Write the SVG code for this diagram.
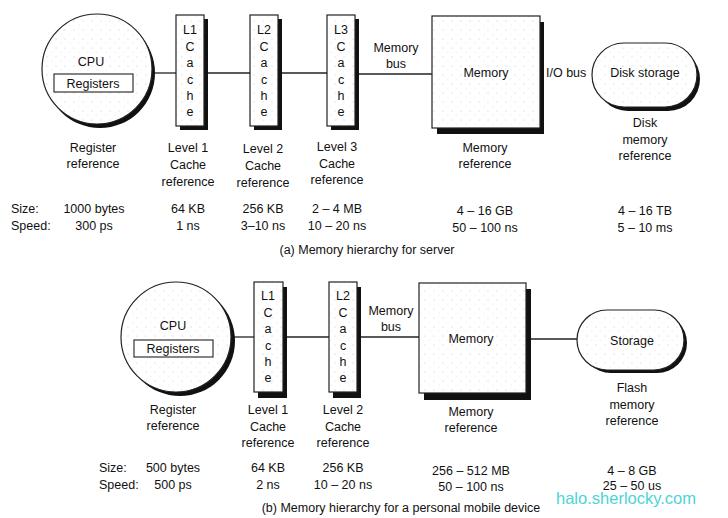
<svg xmlns="http://www.w3.org/2000/svg" width="728" height="518" viewBox="0 0 728 518">
<style>
text{font-family:"Liberation Sans",Arial,sans-serif;font-size:12.5px;fill:#111;text-anchor:middle}
.l{text-anchor:start}
.sh{fill:#111}
.box{fill:url(#dots);stroke:#222;stroke-width:1.2}
.wire{stroke:#222;stroke-width:1.3;fill:none}
.wm{fill:#4dd4d4;font-size:16.5px;text-anchor:start}
</style>
<defs>
<pattern id="dots" width="9" height="9" patternUnits="userSpaceOnUse">
<rect width="9" height="9" fill="#fff"/>
<circle cx="2" cy="3" r="0.5" fill="#bbb"/>
<circle cx="7" cy="7" r="0.4" fill="#ccc"/>
</pattern>
</defs>
<rect width="728" height="518" fill="#fff"/>

<g id="connectors">
<line class="wire" x1="152" y1="73" x2="176" y2="73"/>
<line class="wire" x1="208" y1="73" x2="250" y2="73"/>
<line class="wire" x1="282" y1="73" x2="327" y2="73"/>
<line class="wire" x1="359" y1="74" x2="432" y2="74"/>
<line class="wire" x1="232" y1="337" x2="254" y2="337"/>
<line class="wire" x1="287" y1="337" x2="329" y2="337"/>
<line class="wire" x1="361" y1="337" x2="419" y2="337"/>
<line class="wire" x1="531" y1="339" x2="577" y2="339"/>
</g>

<!-- Top: server -->
<g id="cpu-a">
<circle class="sh" cx="100" cy="73" r="55"/>
<circle class="box" cx="97" cy="69" r="55"/>
<text x="91" y="66">CPU</text>
<rect x="54" y="74" width="79" height="18" fill="#fff" stroke="#222" stroke-width="1.1"/>
<text x="93" y="87.5">Registers</text>
</g>
<g id="l1-a">
<rect class="sh" x="180" y="19" width="28" height="111"/>
<rect class="box" x="176" y="15" width="28" height="111"/>
<text x="190" y="34">L1</text><text x="190" y="51">C</text><text x="190" y="67">a</text><text x="190" y="84">c</text><text x="190" y="100">h</text><text x="190" y="116">e</text>
</g>
<g id="l2-a">
<rect class="sh" x="254" y="19" width="28" height="111"/>
<rect class="box" x="250" y="15" width="28" height="111"/>
<text x="264" y="34">L2</text><text x="264" y="51">C</text><text x="264" y="67">a</text><text x="264" y="84">c</text><text x="264" y="100">h</text><text x="264" y="116">e</text>
</g>
<g id="l3-a">
<rect class="sh" x="331" y="19" width="28" height="111"/>
<rect class="box" x="327" y="15" width="28" height="111"/>
<text x="341" y="34">L3</text><text x="341" y="51">C</text><text x="341" y="67">a</text><text x="341" y="84">c</text><text x="341" y="100">h</text><text x="341" y="116">e</text>
</g>
<g id="bus-a">
<text x="396" y="52">Memory</text>
<text x="396" y="68">bus</text>
</g>
<g id="mem-a">
<rect class="sh" x="437" y="22" width="107" height="112"/>
<rect class="box" x="432" y="16" width="108" height="112"/>
<text x="486" y="77">Memory</text>
</g>
<g id="io-a"><text class="l" x="546" y="77">I/O bus</text></g>
<g id="disk-a">
<rect class="sh" x="596" y="47" width="104" height="64" rx="32"/>
<rect class="box" x="592" y="43" width="105" height="64" rx="32"/>
<text x="645" y="77">Disk storage</text>
</g>
<g id="labels-a">
<text x="93" y="152">Register</text><text x="93" y="168">reference</text>
<text x="188" y="152">Level 1</text><text x="188" y="169">Cache</text><text x="188" y="186">reference</text>
<text x="263" y="153">Level 2</text><text x="263" y="170">Cache</text><text x="263" y="187">reference</text>
<text x="337" y="151">Level 3</text><text x="337" y="168">Cache</text><text x="337" y="184">reference</text>
<text x="485" y="152">Memory</text><text x="485" y="168">reference</text>
<text x="645" y="127">Disk</text><text x="645" y="144">memory</text><text x="645" y="160">reference</text>
<text class="l" x="11" y="213">Size:</text><text class="l" x="11" y="230">Speed:</text>
<text x="94" y="213">1000 bytes</text><text x="94" y="230">300 ps</text>
<text x="188" y="213">64 KB</text><text x="188" y="230">1 ns</text>
<text x="263" y="213">256 KB</text><text x="263" y="230">3–10 ns</text>
<text x="337" y="213">2 – 4 MB</text><text x="337" y="230">10 – 20 ns</text>
<text x="485" y="215">4 – 16 GB</text><text x="485" y="232">50 – 100 ns</text>
<text x="645" y="215">4 – 16 TB</text><text x="645" y="232">5 – 10 ms</text>
<text x="367" y="254">(a) Memory hierarchy for server</text>
</g>

<!-- Bottom: personal mobile device -->
<g id="cpu-b">
<circle class="sh" cx="180" cy="341" r="55"/>
<circle class="box" cx="176" cy="337" r="55"/>
<text x="173" y="330">CPU</text>
<rect x="134" y="340" width="79" height="17" fill="#fff" stroke="#222" stroke-width="1.1"/>
<text x="173" y="353">Registers</text>
</g>
<g id="l1-b">
<rect class="sh" x="258" y="287" width="29" height="111"/>
<rect class="box" x="254" y="282" width="29" height="110"/>
<text x="268" y="300">L1</text><text x="268" y="317">C</text><text x="268" y="333">a</text><text x="268" y="350">c</text><text x="268" y="366">h</text><text x="268" y="382">e</text>
</g>
<g id="l2-b">
<rect class="sh" x="333" y="287" width="28" height="111"/>
<rect class="box" x="329" y="282" width="28" height="110"/>
<text x="343" y="300">L2</text><text x="343" y="317">C</text><text x="343" y="333">a</text><text x="343" y="350">c</text><text x="343" y="366">h</text><text x="343" y="382">e</text>
</g>
<g id="bus-b">
<text x="391" y="315">Memory</text>
<text x="391" y="331">bus</text>
</g>
<g id="mem-b">
<rect class="sh" x="424" y="289" width="107" height="111"/>
<rect class="box" x="419" y="283" width="107" height="110"/>
<text x="471" y="343">Memory</text>
</g>
<g id="storage-b">
<rect class="sh" x="581" y="313" width="106" height="60" rx="30"/>
<rect class="box" x="577" y="310" width="107" height="60" rx="30"/>
<text x="632" y="345">Storage</text>
</g>
<g id="labels-b">
<text x="173" y="414">Register</text><text x="173" y="430">reference</text>
<text x="268" y="414">Level 1</text><text x="268" y="431">Cache</text><text x="268" y="447">reference</text>
<text x="343" y="414">Level 2</text><text x="343" y="431">Cache</text><text x="343" y="447">reference</text>
<text x="471" y="416">Memory</text><text x="471" y="432">reference</text>
<text x="632" y="392">Flash</text><text x="632" y="409">memory</text><text x="632" y="425">reference</text>
<text class="l" x="99" y="472">Size:</text><text class="l" x="99" y="489">Speed:</text>
<text x="173" y="472">500 bytes</text><text x="173" y="489">500 ps</text>
<text x="268" y="472">64 KB</text><text x="268" y="489">2 ns</text>
<text x="343" y="472">256 KB</text><text x="343" y="489">10 – 20 ns</text>
<text x="471" y="475">256 – 512 MB</text><text x="471" y="491">50 – 100 ns</text>
<text x="632" y="475">4 – 8 GB</text><text x="632" y="490">25 – 50 us</text>
<text x="401" y="512">(b) Memory hierarchy for a personal mobile device</text>
</g>
<text class="wm" x="556" y="504">halo.sherlocky.com</text>
</svg>
